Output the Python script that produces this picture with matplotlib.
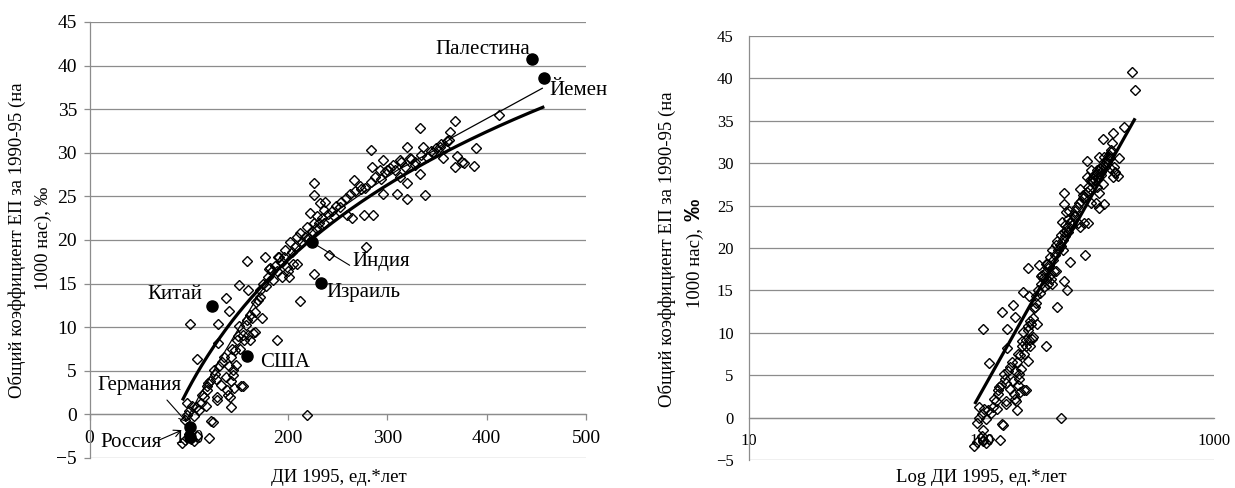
import numpy as np
import matplotlib
matplotlib.use('Agg')
import matplotlib.pyplot as plt
from matplotlib.ticker import FixedLocator, FuncFormatter, NullLocator

plt.rcParams['font.family'] = ['Liberation Serif', 'DejaVu Serif']

# ---------------- data ----------------
di_1995 = [
    93, 96, 100, 102, 105, 108, 120,
    96, 98, 100, 103, 105, 107, 98, 110,
    112, 113, 115, 117, 118, 119, 121, 122, 124,
    101, 108, 118, 125, 127, 128, 128, 129, 129, 126,
    130, 132, 133, 135, 137, 138, 139, 140, 141, 142, 142, 143, 144, 145, 145, 146,
    147, 148, 149, 150, 151, 152, 153, 155, 155, 156, 158, 159, 160, 162, 162, 164,
    165, 167, 167, 168, 170, 172, 174, 189, 137, 140, 151, 160, 172,
    159, 177, 178, 181, 182, 185, 189, 190, 191, 194, 197, 199, 200, 201, 202, 205,
    209, 209, 212, 212, 219, 219, 222, 226, 226, 226, 226, 229, 232, 237, 241, 236, 236,
    175, 180, 184, 187, 193, 196, 204, 207, 214, 217, 220, 224, 228, 231, 234, 240,
    244, 248, 253, 258, 262, 267, 272, 277, 283, 288, 294, 298, 303, 308, 314, 318,
    324, 328, 334, 340, 344, 349, 354, 358, 362,
    246, 252, 259, 264, 266, 273, 276, 278, 283, 284, 286, 293, 296, 296, 300, 306,
    310, 313, 313, 320, 320, 320, 323, 328, 333, 333, 336, 338, 346, 353, 356, 360,
    363, 368, 368, 370, 375, 377, 387, 389, 412,
]
cbr_1990_95 = [
    -3.3, -2.9, -2.2, -2.8, -3.0, -2.5, -2.7,
    -0.6, -0.1, 0.4, 1.0, -0.2, 0.9, 1.3, 0.5,
    1.3, 2.2, 2.0, 1.0, 2.8, 3.6, 3.8, -0.8, -0.9,
    10.4, 6.4, 3.2, 5.1, 4.1, 2.0, 1.6, 10.4, 8.2, 4.6,
    5.5, 3.4, 6.0, 6.6, 4.3, 2.8, 2.2, 5.5, 2.0, 6.6, 0.9, 3.8, 7.5, 4.5, 5.1, 3.0,
    7.4, 5.7, 8.5, 9.0, 10.1, 7.5, 3.2, 3.3, 9.1, 8.5, 10.3, 10.8, 9.1, 8.5, 11.4, 11.0,
    9.3, 9.5, 11.8, 12.9, 13.1, 13.5, 11.0, 8.5, 13.3, 11.9, 14.8, 14.3, 14.3,
    17.6, 18.0, 14.7, 16.7, 16.8, 15.4, 16.5, 18.1, 18.1, 15.8, 18.9, 16.9, 16.4, 15.8, 19.8, 17.3,
    20.4, 17.3, 20.8, 13.0, 21.5, -0.1, 23.1, 16.1, 21.9, 25.2, 26.5, 22.7, 24.2, 24.4, 18.3, 23.4, 21.9,
    15.0, 15.8, 16.5, 17.0, 17.6, 18.0, 18.6, 19.2, 19.8, 20.4, 20.2, 21.0, 21.4, 22.0, 22.5, 23.0,
    23.3, 23.9, 24.4, 24.8, 25.3, 25.6, 26.2, 26.0, 26.6, 27.2, 27.0, 27.8, 28.2, 28.0, 28.9, 28.4,
    29.3, 29.0, 29.8, 29.5, 30.2, 30.5, 31.0, 30.6, 31.5,
    22.7, 23.8, 22.9, 22.5, 26.9, 25.9, 22.9, 19.2, 30.3, 28.4, 22.9, 28.0, 29.2, 25.3, 28.0, 28.6,
    25.3, 29.2, 27.2, 30.7, 26.5, 24.7, 29.4, 28.6, 32.9, 27.6, 30.7, 25.2, 30.1, 30.7, 29.4, 31.3,
    32.4, 33.6, 28.4, 29.6, 29.0, 28.8, 28.5, 30.6, 34.3,
]

country_names = ['Палестина', 'Йемен', 'Индия', 'Израиль', 'Китай', 'США', 'Германия', 'Россия']
country_di = [446, 458, 224, 233, 123, 159, 101, 101]
country_cbr = [40.8, 38.6, 19.8, 15.1, 12.4, 6.7, -1.5, -2.6]

# logarithmic trend  y = a*ln(x) + b  (coefficients)
LOG_A = 21.2
LOG_B = -94.6
LOG_X_RANGE = (93.5, 458)

# thin trend line on the left chart
thin_trend_x = [97, 110, 130, 150, 172, 200, 230, 270, 310, 346, 366, 456]
thin_trend_y = [-0.8, 2.0, 6.0, 9.8, 14.0, 18.0, 21.8, 25.0, 28.0, 30.2, 31.8, 37.4]

y_ticks = [-5, 0, 5, 10, 15, 20, 25, 30, 35, 40, 45]
x_ticks_left = [0, 100, 200, 300, 400, 500]
x_ticks_right = [10, 100, 1000]

ylabel_line1 = 'Общий коэффициент ЕП за 1990-95 (на'
ylabel_line2 = '1000 нас), ‰'
xlabel_left = 'ДИ 1995, ед.*лет'
xlabel_right = 'Log ДИ 1995, ед.*лет'

# ---------------- figure ----------------
W, H = 1235, 488
fig = plt.figure(figsize=(W / 100, H / 100), dpi=100)
GRID = '#8c8c8c'

def px_box(x0, y_top, x1, y_bot):
    return [x0 / W, 1 - y_bot / H, (x1 - x0) / W, (y_bot - y_top) / H]

def style_axes(ax, tick_fs, ylen, ypad, xpad):
    ax.set_ylim(-5, 45)
    ax.yaxis.set_major_locator(FixedLocator(y_ticks))
    ax.grid(axis='y', color=GRID, lw=0.9, zorder=0)
    ax.set_axisbelow(True)
    for s in ('top', 'right'):
        ax.spines[s].set_visible(False)
    ax.spines['left'].set_color(GRID)
    ax.spines['left'].set_linewidth(0.9)
    ax.spines['bottom'].set_color(GRID)
    ax.spines['bottom'].set_linewidth(0.9)
    ax.spines['bottom'].set_position(('data', 0))
    ax.tick_params(axis='y', length=ylen, color=GRID, width=0.9, pad=ypad, labelsize=tick_fs)
    ax.tick_params(axis='x', length=ylen, color=GRID, width=0.9, pad=xpad, labelsize=tick_fs,
                   direction='out')

mk = dict(marker='D', ms=5.0, mfc='none', mec='black', mew=1.0, ls='none')

# ---------- left chart ----------
axL = fig.add_axes(px_box(89.5, 22, 586, 458))
style_axes(axL, 14, 4, 5, 7)
axL.set_xlim(0, 500)
axL.xaxis.set_major_locator(FixedLocator(x_ticks_left))
axL.plot(di_1995, cbr_1990_95, zorder=3, **mk)
xf = np.linspace(LOG_X_RANGE[0], LOG_X_RANGE[1], 300)
axL.plot(xf, LOG_A * np.log(xf) + LOG_B, color='black', lw=2.3, zorder=4, solid_capstyle='butt')
axL.plot(thin_trend_x, thin_trend_y, color='black', lw=0.9, zorder=4)
axL.plot(country_di, country_cbr, marker='o', ms=8, mfc='black', mec='black', ls='none', zorder=5)

ann_fs = 15
lab = {
    'Палестина': (443.6, 41.9, 'right'),
    'Йемен': (462.7, 37.2, 'left'),
    'Индия': (264.4, 17.5, 'left'),
    'Израиль': (239, 14.0, 'left'),
    'Китай': (58, 13.7, 'left'),
    'США': (171.7, 5.9, 'left'),
    'Германия': (7.5, 3.3, 'left'),
    'Россия': (10.6, -3.2, 'left'),
}
for name in country_names:
    x, y, ha = lab[name]
    axL.text(x, y, name, fontsize=ann_fs, ha=ha, va='center', zorder=6, clip_on=False)

axL.annotate('', xy=(226, 19.6), xytext=(262, 17.1),
             arrowprops=dict(arrowstyle='-', lw=0.8, color='black', shrinkA=0, shrinkB=0), zorder=6)
axL.annotate('', xy=(98, -0.9), xytext=(78, 1.65),
             arrowprops=dict(arrowstyle='->,head_length=0.5,head_width=0.25', lw=0.8, color='black',
                             shrinkA=0, shrinkB=0), zorder=6)
axL.annotate('', xy=(93, -1.8), xytext=(71, -2.9),
             arrowprops=dict(arrowstyle='->,head_length=0.5,head_width=0.25', lw=0.8, color='black',
                             shrinkA=0, shrinkB=0), zorder=6)

fig.text(339 / W, 1 - 477 / H, xlabel_left, fontsize=13.5, ha='center', va='center')
fig.text(17 / W, 1 - 240 / H, ylabel_line1, fontsize=13.5, rotation=90, ha='center', va='center')
fig.text(43 / W, 1 - 238 / H, ylabel_line2, fontsize=13.5, rotation=90, ha='center', va='center')

# ---------- right chart ----------
axR = fig.add_axes(px_box(749, 36, 1214, 460))
style_axes(axR, 12, 0, 11, 11)
axR.set_xscale('log')
axR.set_xlim(10, 1000)
axR.xaxis.set_major_locator(FixedLocator(x_ticks_right))
axR.xaxis.set_minor_locator(NullLocator())
axR.xaxis.set_major_formatter(FuncFormatter(lambda v, p: f'{int(round(v))}'))
axR.plot(list(di_1995) + country_di, list(cbr_1990_95) + country_cbr, zorder=3, **mk)
axR.plot(xf, LOG_A * np.log(xf) + LOG_B, color='black', lw=2.3, zorder=4, solid_capstyle='butt')

fig.text(981 / W, 1 - 478 / H, xlabel_right, fontsize=13.5, ha='center', va='center')
fig.text(667 / W, 1 - 249 / H, ylabel_line1, fontsize=13.5, rotation=90, ha='center', va='center')
fig.text(695 / W, 1 - 308 / H, '1000 нас), ', fontsize=13.5, rotation=90, ha='center', va='bottom')
fig.text(694 / W, 1 - 221 / H, '‰', fontsize=16, rotation=90, ha='center', va='bottom',
         family=['Liberation Sans', 'DejaVu Sans'], fontweight='bold')

fig.savefig('out.png', dpi=100)
